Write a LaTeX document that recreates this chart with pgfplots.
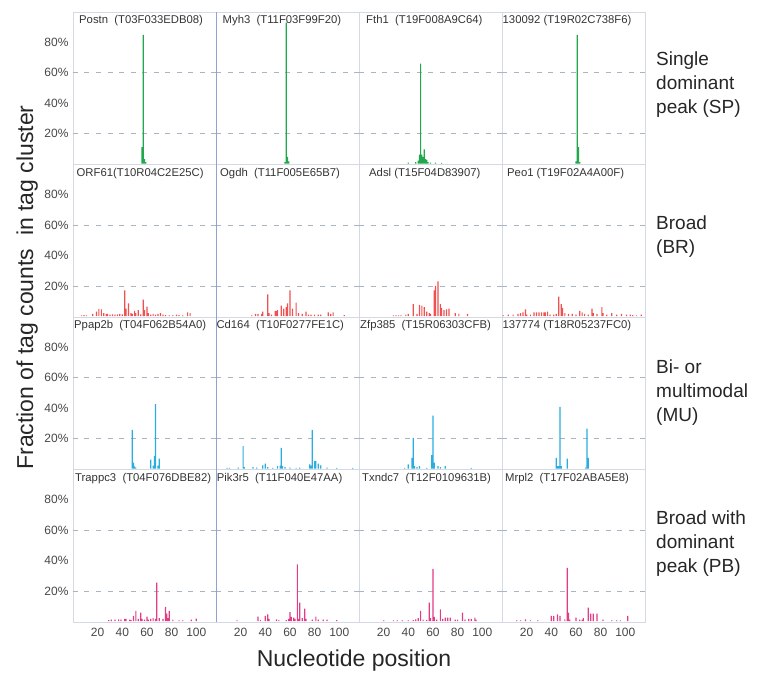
\documentclass[border=0pt]{standalone}
\usepackage{fontspec}
\setmainfont{Liberation Sans}
\usepackage{pgfplots}
\pgfplotsset{compat=1.18}

\definecolor{spcol}{HTML}{22A84C}
\definecolor{brcol}{HTML}{EF5050}
\definecolor{mucol}{HTML}{2AAEE0}
\definecolor{pbcol}{HTML}{E23C86}
\definecolor{bordercol}{HTML}{D3DAE6}
\definecolor{sepcol}{HTML}{8FA3D0}
\definecolor{gridcol}{HTML}{A9B6C2}
\definecolor{labcol}{HTML}{474747}
\definecolor{titlecol}{HTML}{333333}

\pgfplotsset{
  panel/.style={
    scale only axis, width=143pt, height=152.5pt,
    xmin=0, xmax=116, ymin=-0.5, ymax=100,
    axis line style={draw=bordercol, line width=0.7pt},
    xtick={20,40,60,80,100}, ytick={20,40,60,80},
    xticklabels={}, yticklabels={},
    major tick length=0pt,
    /pgf/number format/assume math mode=true,
    tick label style={font=\fontsize{12}{14}\selectfont, text=labcol},
    yticklabel style={xshift=-1pt},
    xticklabel style={yshift=-3pt},
    extra y ticks={20,60}, extra y tick labels={},
    extra y tick style={ymajorgrids=true,
      grid style={draw=gridcol, dash pattern=on 5pt off 6.5pt, line width=0.7pt}},
    ybar, bar width=1.2pt,
  },
  ylab/.style={yticklabels={20\%,40\%,60\%,80\%}},
  xlab/.style={xticklabels={20,40,60,80,100}},
  bars/.style={fill=#1, draw=none},
}
\tikzset{ptitle/.style={anchor=north west, inner sep=0pt, yshift=-3.5pt,
  font=\fontsize{11.3}{13}\selectfont, text=titlecol}}
\newcommand{\ptitle}[2]{\node[ptitle, xshift=#1pt] at (rel axis cs:0,1) {#2};}

\begin{document}
\begin{tikzpicture}
\path[use as bounding box] (0pt,0pt) rectangle (763pt,673pt);

% ---------- Row 1: single dominant peak ----------
\begin{axis}[panel, ylab, at={(73pt,508.5pt)}, anchor=south west]
\addplot[bars=spcol] coordinates {(56,11) (57,85) (58,3) (59,1)};
\ptitle{6}{Postn\ \ (T03F033EDB08)}
\end{axis}
\begin{axis}[panel, at={(216pt,508.5pt)}, anchor=south west]
\addplot[bars=spcol] coordinates {(56,1) (57,93) (58,4.5) (59,1.5)};
\ptitle{6.5}{Myh3\ \ (T11F03F99F20)}
\end{axis}
\begin{axis}[panel, at={(359pt,508.5pt)}, anchor=south west]
\addplot[bars=spcol] coordinates {(40,0.8) (46,1) (48,2) (49,6) (50,66) (51,6)
  (52,4.5) (53,9.5) (54,3) (55,2.5) (56,1) (58,0.8) (62,0.8) (67,0.6)};
\ptitle{7}{Fth1\ \ (T19F008A9C64)}
\end{axis}
\begin{axis}[panel, at={(502pt,508.5pt)}, anchor=south west]
\addplot[bars=spcol] coordinates {(60,1.5) (61,85) (62,11) (63,1)};
\ptitle{0.5}{130092 (T19R02C738F6)}
\end{axis}

% ---------- Row 2: broad ----------
\begin{axis}[panel, ylab, at={(73pt,356pt)}, anchor=south west]
\addplot[bars=brcol] coordinates {(7,0.6) (9,0.8) (11,0.5) (16,1.5) (19,3) (21,4.8)
  (23,4.5) (25,2) (27,1.5) (28,1.5) (30,1) (32,1.3) (34,1) (36,1.3) (38,1.5)
  (40,1.3) (42,17) (43,5) (45,8.5) (47,2) (48,1.5) (50,3.5) (51,2) (53,4)
  (55,1.2) (57,11) (58,4) (60,6.3) (61,2) (63,1) (65,1.5) (67,1) (69,1.5)
  (71,2) (73,1) (75,0.8) (78,0.5) (81,0.8) (84,1) (86,0.8) (89,0.6) (93,2.5) (95,2)};
\ptitle{3.5}{ORF61(T10R04C2E25C)}
\end{axis}
\begin{axis}[panel, at={(216pt,356pt)}, anchor=south west]
\addplot[bars=brcol] coordinates {(29,0.5) (32,1.5) (34,1.5) (37,1.5) (38,3) (42,14.4)
  (43,2) (45,1) (48,3.5) (49,3.5) (50,4) (53,7) (55,5) (57,6) (58,8.5)
  (60,17) (62,5) (65,9) (67,2) (70,1.5) (73,3) (75,1) (77,1) (80,1) (83,1)
  (85,1) (91,2.5) (93,1.5) (95,2.5) (104,0.8)};
\ptitle{4}{Ogdh\ \ (T11F005E65B7)}
\end{axis}
\begin{axis}[panel, at={(359pt,356pt)}, anchor=south west]
\addplot[bars=brcol] coordinates {(28,0.5) (30,0.5) (32,0.5) (34,0.5) (38,1) (40,1.5)
  (44,8) (47,1.5) (49,7.5) (51,7) (53,6) (55,3) (57,2) (58,1.5) (61,17)
  (62,20) (64,23) (66,8) (67,5.5) (69,4) (71,4.5) (73,5) (78,2) (81,1.5) (88,1.5)};
\ptitle{10}{Adsl (T15F04D83907)}
\end{axis}
\begin{axis}[panel, at={(502pt,356pt)}, anchor=south west]
\addplot[bars=brcol] coordinates {(1,0.5) (5,1) (9,1) (13,1.5) (15,2) (17,2.5)
  (19,4.5) (20,1) (23,1) (26,2.5) (28,2.5) (30,2.5) (32,2.5) (34,2.5) (35,2.5)
  (37,3) (39,1) (42,1) (44,1.5) (46,13) (48,8) (49,5.5) (51,2) (54,1.5)
  (57,1.5) (60,1) (63,3.5) (65,2.5) (67,1.5) (70,1) (73,5) (74,2) (77,1.5)
  (81,6) (82,2) (85,1) (89,2) (93,1) (97,1.5) (101,1) (104,1) (106,0.8)
  (109,0.5) (113,1)};
\ptitle{5}{Peo1 (T19F02A4A00F)}
\end{axis}

% ---------- Row 3: bi- or multimodal ----------
\begin{axis}[panel, ylab, at={(73pt,203.5pt)}, anchor=south west]
\addplot[bars=mucol] coordinates {(48,25.6) (49,4) (50,1.5) (51,0.8) (63,6)
  (65,2) (66,8.3) (67,42.6) (69,2) (70,6.6)};
\ptitle{1}{Ppap2b\ \ (T04F062B54A0)}
\end{axis}
\begin{axis}[panel, at={(216pt,203.5pt)}, anchor=south west]
\addplot[bars=mucol] coordinates {(9,0.5) (11,0.5) (18,0.8) (22,14.9) (23,1)
  (30,1) (33,0.8) (38,2.2) (40,3.3) (42,1) (46,0.5) (50,1.8) (52,2) (53,13.8)
  (54,1.8) (56,1) (60,0.8) (65,0.5) (68,0.8) (76,2.8) (77,2) (78,25.6)
  (80,5) (81,5) (83,3.3) (85,2.2) (90,0.8) (98,0.5) (111,0.5)};
\ptitle{0.3}{Cd164\ \ (T10F0277FE1C)}
\end{axis}
\begin{axis}[panel, at={(359pt,203.5pt)}, anchor=south west]
\addplot[bars=mucol] coordinates {(37,0.5) (40,2.8) (43,7.2) (44,20.3) (45,1.8)
  (47,1.1) (49,1.8) (55,0.5) (59,9) (60,35) (61,4) (64,1.8) (66,1.1) (70,1.8) (91,0.5)};
\ptitle{1}{Zfp385\ \ (T15R06303CFB)}
\end{axis}
\begin{axis}[panel, at={(502pt,203.5pt)}, anchor=south west]
\addplot[bars=mucol] coordinates {(44,7.2) (45,1.8) (46,1.8) (47,40.7) (48,1.8)
  (53,6.6) (68,0.7) (69,26.4) (70,7.2)};
\ptitle{0.3}{137774 (T18R05237FC0)}
\end{axis}

% ---------- Row 4: broad with dominant peak ----------
\begin{axis}[panel, ylab, xlab, at={(73pt,51pt)}, anchor=south west]
\addplot[bars=pbcol] coordinates {(29,0.7) (31,1) (34,1) (37,1.2) (39,1) (42,1.5)
  (43,1.5) (46,1) (47,0.8) (49,3.5) (51,6.8) (53,1.5) (55,5.7) (56,1.5) (58,1)
  (60,3) (61,1) (63,1.5) (65,2) (67,1.5) (68,25.4) (70,2) (73,1.5) (75,9.4)
  (76,5) (77,2) (78,6.8) (81,1) (86,0.5) (89,0.5) (96,1) (100,1.8)};
\ptitle{2}{Trappc3\ \ (T04F076DBE82)}
\end{axis}
\begin{axis}[panel, xlab, at={(216pt,51pt)}, anchor=south west]
\addplot[bars=pbcol] coordinates {(17,0.5) (34,3) (36,0.8) (40,3.5) (42,4.6) (43,1.5)
  (49,1.2) (51,0.8) (57,0.8) (59,1.5) (60,6) (61,2.8) (63,2.4) (64,1.5) (66,37.4)
  (67,1.5) (68,12.2) (70,2) (72,8.3) (73,1.5) (78,1) (81,3) (83,1) (87,1)
  (90,1) (98,0.8)};
\ptitle{0.7}{Pik3r5\ \ (T11F040E47AA)}
\end{axis}
\begin{axis}[panel, xlab, at={(359pt,51pt)}, anchor=south west]
\addplot[bars=pbcol] coordinates {(20,0.5) (28,0.5) (31,0.5) (35,0.5) (40,0.5)
  (44,0.8) (46,1.3) (48,2) (50,6.8) (52,1) (55,0.8) (57,12.2) (58,2) (60,34.5)
  (61,2.8) (63,1) (66,7.9) (68,1.5) (70,2.4) (72,2.4) (74,2.4) (78,1) (80,1)
  (84,5.7) (86,1) (89,1.5) (91,1.5) (94,2.4) (95,1)};
\ptitle{3}{Txndc7\ \ (T12F0109631B)}
\end{axis}
\begin{axis}[panel, xlab, at={(502pt,51pt)}, anchor=south west]
\addplot[bars=pbcol] coordinates {(12,0.5) (15,0.5) (19,1.3) (23,0.5) (29,0.5)
  (40,3.5) (42,3.5) (45,4.6) (47,3.5) (51,1.3) (53,35.2) (54,5.7) (55,1)
  (60,2.4) (63,1) (65,1) (66,2) (70,9) (72,5) (74,5) (77,5) (82,1) (89,0.5)
  (93,0.5) (96,0.5) (102,3.5)};
\ptitle{3}{Mrpl2\ \ (T17F02ABA5E8)}
\end{axis}

% divider between the first and second column
\draw[sepcol, line width=0.8pt] (216pt,51pt) -- (216pt,661pt);

% axis titles
\node[rotate=90, anchor=base, font=\fontsize{23}{27}\selectfont, text=black!85]
  at (33pt,385.5pt) {Fraction of tag counts\ \ in tag cluster};
\node[anchor=base, font=\fontsize{23}{27}\selectfont, text=black!85]
  at (354pt,7pt) {Nucleotide position};

% row labels
\begin{scope}[every node/.style={anchor=west, align=left,
    font=\fontsize{19}{24}\selectfont, text=black!85, inner sep=0pt}]
\node at (656pt,588pt) {Single\\dominant\\peak (SP)};
\node at (656pt,436pt) {Broad\\(BR)};
\node at (656pt,280pt) {Bi- or\\multimodal\\(MU)};
\node at (656pt,129pt) {Broad with\\dominant\\peak (PB)};
\end{scope}
\end{tikzpicture}
\end{document}
